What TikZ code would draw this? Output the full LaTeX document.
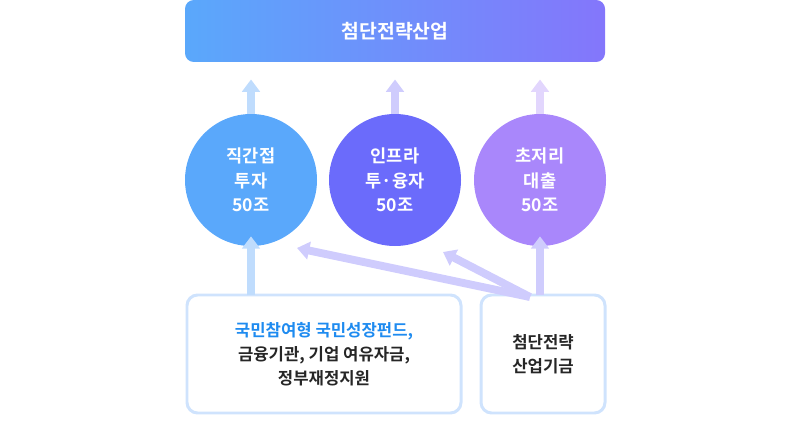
\documentclass[tikz,border=0pt]{standalone}
\usepackage{fontspec}
\setmainfont{Noto Sans CJK KR}
\newfontfamily\krb{Noto Sans CJK KR Bold}
\usetikzlibrary{positioning,arrows.meta}
\definecolor{blueA}{HTML}{5AA8FB}
\definecolor{blueB}{HTML}{6B6BFB}
\definecolor{purpleC}{HTML}{A987FB}
\definecolor{arrowblue}{HTML}{BFDCFD}
\definecolor{arrowpurple}{HTML}{CFCCFD}
\definecolor{arrowlilac}{HTML}{E2D6FD}
\definecolor{boxline}{HTML}{CFE3FD}
\definecolor{fundblue}{HTML}{1E8BF0}
\begin{document}
\begin{tikzpicture}[x=0.02cm,y=-0.02cm,
    circ/.style={circle,minimum size=132*0.02cm,inner sep=0pt,align=center,
      text=white,font=\krb\fontsize{10}{14}\selectfont},
    fund/.style={draw=boxline,line width=1.7pt,rounded corners=6pt,fill=white,
      align=center,font=\krb\fontsize{9.5}{13.5}\selectfont,text=black!85},
    up/.style={line width=4.5pt,-{Triangle[length=7pt,width=10pt]}}]
      \useasboundingbox (0,0) rectangle (790,439);
      % top bar
      \shade[left color=blueA,right color=blueB!60!purpleC,rounded corners=5pt]
        (185,0) rectangle (605,62);
      \node[text=white,font=\krb\fontsize{11}{13}\selectfont] (top) at (395,31) {첨단전략산업};
      \coordinate (tl) at (251,62);
      \coordinate (tm) at (395,62);
      \coordinate (tr) at (540,62);

      % circles
      \node[circ,fill=blueA] (c1) at (251,180) {직간접\\투자\\50조};
      \node[circ,fill=blueB] (c2) at (395,180) {인프라\\투·융자\\50조};
      \node[circ,fill=purpleC] (c3) at (540,180) {초저리\\대출\\50조};

      \draw[up,arrowblue] (c1.north) -- ([yshift=-0.35cm]tl);
      \draw[up,arrowpurple] (c2.north) -- ([yshift=-0.35cm]tm);
      \draw[up,arrowlilac] (c3.north) -- ([yshift=-0.35cm]tr);

      % funds
      \node[fund,minimum width=274*0.02cm,minimum height=118*0.02cm] (f1) at (324,354)
        {\textcolor{fundblue}{국민참여형 국민성장펀드,}\\금융기관, 기업 여유자금,\\정부재정지원};
      \node[fund,minimum width=124*0.02cm,minimum height=118*0.02cm] (f2) at (543,354)
        {첨단전략\\산업기금};
      \coordinate (f1t) at (251,295);
      \coordinate (f2t) at (530,297);
      \coordinate (f3t) at (540,295);

      \begin{scope}[on background layer/.style={}]
      \draw[up,arrowblue] (f1t) -- ([yshift=0.2cm]c1.south);
      \draw[up,arrowpurple] (f3t) -- ([yshift=0.2cm]c3.south);
      \draw[up,arrowpurple] (f2t) -- (297,248);
      \draw[up,arrowpurple] (f2t) -- (443,252);
      \end{scope}
\end{tikzpicture}
\end{document}
